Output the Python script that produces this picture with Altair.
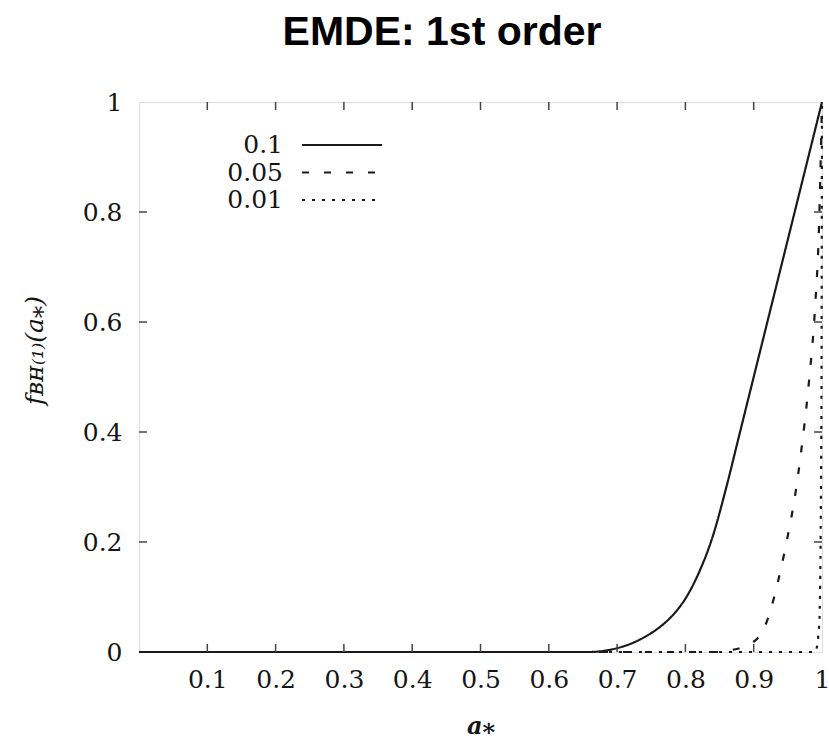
import altair as alt
import pandas as pd

# --- data ---
series_names = ["0.1", "0.05", "0.01"]

a_s01 = [0.0, 0.66, 0.68, 0.70, 0.72, 0.74, 0.76, 0.78, 0.80, 0.82, 0.84, 0.86, 0.88, 0.90, 0.92, 0.94, 0.96, 0.98, 1.0]
f_s01 = [0.0, 0.0, 0.002, 0.007, 0.015, 0.027, 0.043, 0.065, 0.097, 0.145, 0.21, 0.30, 0.40, 0.50, 0.60, 0.70, 0.80, 0.90, 1.0]

a_s005 = [0.0, 0.85, 0.87, 0.89, 0.91, 0.92, 0.93, 0.94, 0.95, 0.96, 0.97, 0.98, 0.99, 0.995, 1.0]
f_s005 = [0.0, 0.0, 0.004, 0.012, 0.032, 0.058, 0.10, 0.152, 0.212, 0.28, 0.37, 0.48, 0.63, 0.75, 1.0]

a_s001 = [0.0, 0.99, 0.996, 0.999, 1.0]
f_s001 = [0.0, 0.0, 0.05, 0.4, 1.0]

x_tick_values = [0.1, 0.2, 0.3, 0.4, 0.5, 0.6, 0.7, 0.8, 0.9, 1.0]
y_tick_values = [0.0, 0.2, 0.4, 0.6, 0.8, 1.0]
x_inner_ticks = [0.1, 0.2, 0.3, 0.4, 0.5, 0.6, 0.7, 0.8, 0.9]
y_inner_ticks = [0.2, 0.4, 0.6, 0.8]

title_text = ["EMDE: 1st order"]

# --- build table ---
rows = []
for name, xs, ys in zip(series_names, [a_s01, a_s005, a_s001], [f_s01, f_s005, f_s001]):
    for a, f in zip(xs, ys):
        rows.append({"series": name, "a": a, "f": f})
df = pd.DataFrame(rows)

W, H = 683, 550
dashes = [[1, 0], [7, 15], [3, 7]]
SERIF = "DejaVu Serif"
INK = "#1a1a1a"
LBL = "#151515"

x_scale = alt.Scale(domain=[0, 1], nice=False, zero=False)
y_scale = alt.Scale(domain=[0, 1], nice=False, zero=False)

lines = alt.Chart(df).mark_line(color=INK, strokeWidth=2.2, clip=False, interpolate="monotone").encode(
    x=alt.X("a:Q", scale=x_scale,
            axis=alt.Axis(values=x_tick_values, format="~g", ticks=False, domain=False, grid=False,
                          labelFont=SERIF, labelFontSize=25, labelColor=LBL,
                          labelFlush=False, labelOverlap=False, labelPadding=15,
                          title="a⁎", titleFont=SERIF, titleFontStyle="italic", titleFontWeight="bold",
                          titleFontSize=24, titleX=W / 2, titleY=74, titleBaseline="middle",
                          titleAlign="center", titleColor=LBL)),
    y=alt.Y("f:Q", scale=y_scale,
            axis=alt.Axis(values=y_tick_values, format="~g", ticks=False, domain=False, grid=False,
                          labelFont=SERIF, labelFontSize=25, labelColor=LBL,
                          labelFlush=False, labelOverlap=False, labelPadding=17,
                          title="fʙʜ₍₁₎(a⁎)", titleFont=SERIF, titleFontStyle="italic",
                          titleFontWeight="normal", titleFontSize=25, titleX=-105, titleY=248,
                          titleAlign="center", titleBaseline="middle", titleColor=LBL)),
    strokeDash=alt.StrokeDash("series:N", scale=alt.Scale(domain=series_names, range=dashes), legend=None),
    detail="series:N",
)

tick_color = "#444"
xt_df = pd.DataFrame({"a": x_inner_ticks})
yt_df = pd.DataFrame({"f": y_inner_ticks})

x_ticks_bottom = alt.Chart(xt_df).mark_rule(color=tick_color, strokeWidth=1.5).encode(
    x=alt.X("a:Q", scale=x_scale), y=alt.value(H), y2=alt.value(H - 8))
x_ticks_top = alt.Chart(xt_df).mark_rule(color=tick_color, strokeWidth=1.5).encode(
    x=alt.X("a:Q", scale=x_scale), y=alt.value(0), y2=alt.value(8))
y_ticks_left = alt.Chart(yt_df).mark_rule(color=tick_color, strokeWidth=1.5).encode(
    y=alt.Y("f:Q", scale=y_scale), x=alt.value(0), x2=alt.value(8))
y_ticks_right = alt.Chart(yt_df).mark_rule(color=tick_color, strokeWidth=1.5).encode(
    y=alt.Y("f:Q", scale=y_scale), x=alt.value(W), x2=alt.value(W - 8))

# --- legend (label on the left, line sample on the right) ---
legend_layers = []
for i, name in enumerate(series_names):
    ypos = 43 + 27.5 * i
    ldf = pd.DataFrame({"label": [name]})
    legend_layers.append(
        alt.Chart(ldf).mark_text(align="right", baseline="middle", font=SERIF, fontSize=25,
                                 color=LBL).encode(text="label:N", x=alt.value(144), y=alt.value(ypos)))
    legend_layers.append(
        alt.Chart(ldf).mark_rule(color=INK, strokeWidth=2.2, strokeDash=dashes[i]).encode(
            x=alt.value(163), x2=alt.value(243), y=alt.value(ypos)))

# --- title as a text mark above the plot ---
title_layer = alt.Chart(pd.DataFrame({"t": title_text})).mark_text(
    font="Liberation Sans", fontSize=41, fontWeight="bold", color="black",
    align="center", baseline="alphabetic").encode(text="t:N", x=alt.value(303), y=alt.value(-57))

chart = alt.layer(lines, x_ticks_bottom, x_ticks_top, y_ticks_left, y_ticks_right,
                  *legend_layers, title_layer).properties(
    width=W, height=H,
    autosize=alt.AutoSizeParams(type="none"),
    padding={"left": 139, "top": 102, "right": 7, "bottom": 87},
).configure_view(stroke="#3a3a3a", strokeWidth=1.6).configure(background="white")

chart.save("out.html", embed_options={"renderer": "svg", "actions": False})
